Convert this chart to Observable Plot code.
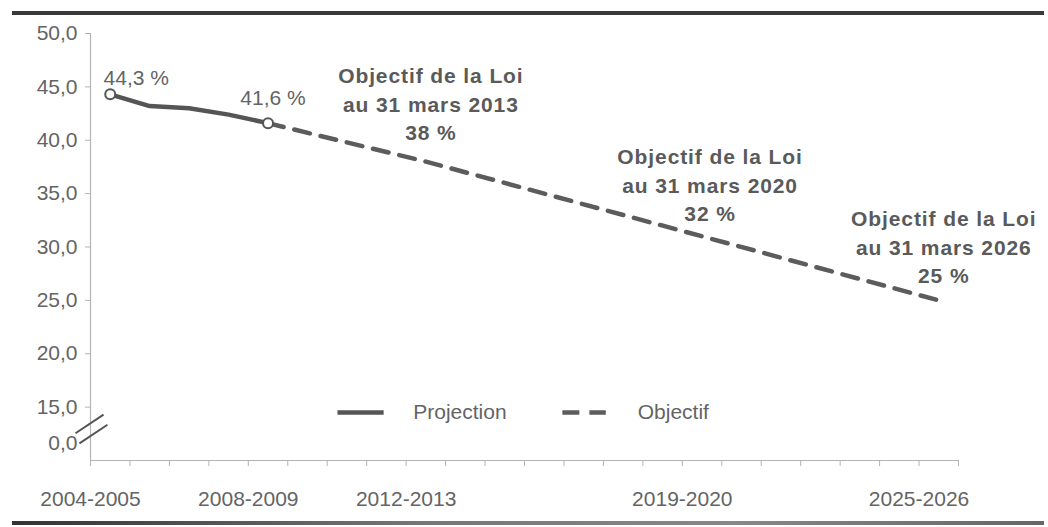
<!DOCTYPE html>
<html>
<head>
<meta charset="utf-8">
<script src="https://cdn.jsdelivr.net/npm/d3@7"></script>
<script src="https://cdn.jsdelivr.net/npm/@observablehq/plot@0.6"></script>
<style>
  html, body { margin: 0; padding: 0; background: #fff; }
  #wrap { position: relative; width: 1048px; height: 527px; overflow: hidden; }
  .rule { position: absolute; left: 12px; right: 4px; }
  #top { top: 11px; height: 4px; background: #3a3a3a; }
  #bottom { top: 521px; height: 4px; background: linear-gradient(90deg, #333, #777 40%, #888 70%, #666); }
  g[font-weight="bold"] text { letter-spacing: 0.9px; }
</style>
</head>
<body>
<div id="wrap"><div class="rule" id="top"></div><div class="rule" id="bottom"></div></div>
<script>
// Categories (school years)
const years = ["2004-2005","2005-2006","2006-2007","2007-2008","2008-2009","2009-2010","2010-2011",
  "2011-2012","2012-2013","2013-2014","2014-2015","2015-2016","2016-2017","2017-2018","2018-2019",
  "2019-2020","2020-2021","2021-2022","2022-2023","2023-2024","2024-2025","2025-2026"];
const labeledYears = ["2004-2005","2008-2009","2012-2013","2019-2020","2025-2026"];

// Projection series (solid)
const projYears = ["2004-2005","2005-2006","2006-2007","2007-2008","2008-2009"];
const projValues = [44.3, 43.2, 43.0, 42.4, 41.6];

// Objectif series (dashed)
const objYears = ["2008-2009","2012-2013","2025-2026"];
const objValues = [41.6, 38, 25];

// Labelled points
const markedYears = ["2004-2005","2008-2009"];
const markedValues = [44.3, 41.6];
const markedLabels = ["44,3 %","41,6 %"];

// Law objectives annotations
const goalYears = ["2012-2013","2019-2020","2025-2026"];
const goalValues = [38, 32, 25];
const goalTexts = ["Objectif de la Loi\nau 31 mars 2013\n38 %",
                   "Objectif de la Loi\nau 31 mars 2020\n32 %",
                   "Objectif de la Loi\nau 31 mars 2026\n25 %"];

const yTicks = [15, 20, 25, 30, 35, 40, 45, 50];

const idx = y => years.indexOf(y);
const mid = y => idx(y) + 0.5;

const proj = projYears.map((y, i) => ({x: mid(y), value: projValues[i]}));
const obj = objYears.map((y, i) => ({x: mid(y), value: objValues[i]}));

const textColor = "#646464";
const lineColor = "#555555";
const axisColor = "#b4b4b4";
const fontFamily = "'Liberation Sans', Arial, sans-serif";

// Point label placements (pixel offsets from the point)
const labelOffsets = [{dx: 26, dy: -16}, {dx: 5, dy: -25}];
const labelMarks = markedYears.map((y, i) => Plot.text([{x: mid(y), value: markedValues[i], t: markedLabels[i]}], {
  x: "x", y: "value", text: "t", dx: labelOffsets[i].dx, dy: labelOffsets[i].dy, fill: textColor, fontSize: 21
}));

// Annotation placements (pixel offsets from the goal point)
const goalOffsets = [{dx: 5, dy: -59}, {dx: 8, dy: -42}, {dx: 5, dy: -55}];
const goalMarks = goalYears.map((y, i) => Plot.text([{x: mid(y), value: goalValues[i], t: goalTexts[i]}], {
  x: "x", y: "value", text: "t", dx: goalOffsets[i].dx, dy: goalOffsets[i].dy,
  fontWeight: "bold", fontSize: 21, fill: "#5a5a5a", lineHeight: 1.36, textAnchor: "middle",
  lineAnchor: "middle"
}));

const chart = Plot.plot({
  width: 1048,
  height: 527,
  marginLeft: 90,
  marginRight: 90,
  marginTop: 33,
  marginBottom: 67,
  style: {fontFamily, fontSize: "21px", color: textColor, background: "transparent"},
  x: {type: "linear", domain: [0, years.length], axis: null},
  y: {type: "linear", domain: [10, 50], axis: null},
  marks: [
    // axes
    Plot.ruleX([0], {y1: 10, y2: 50, stroke: axisColor, strokeWidth: 1.2}),
    Plot.ruleY([10], {x1: 0, x2: years.length, stroke: axisColor, strokeWidth: 1.2}),
    Plot.axisY({ticks: yTicks, tickSize: 5, tickPadding: 8, stroke: axisColor, fill: textColor,
      tickFormat: d => d.toFixed(1).replace(".", ","), label: null, fontSize: 21}),
    Plot.axisX({ticks: d3.range(0, years.length + 1), tickSize: 6, tickPadding: 25, stroke: axisColor, fill: textColor,
      tickFormat: i => labeledYears.includes(years[i]) ? years[i] : "", label: null, fontSize: 21}),
    // axis break
    Plot.text([{v: 11.6}], {x: 0, y: "v", text: () => "0,0", dx: -13, textAnchor: "end", fill: textColor, fontSize: 21}),
    Plot.link([{a: -0.38, b: 0.33, c: 12.55, d: 14.3}, {a: -0.28, b: 0.43, c: 11.6, d: 13.35}],
      {x1: "a", x2: "b", y1: "c", y2: "d", stroke: lineColor, strokeWidth: 2}),
    // series
    Plot.line(obj, {x: "x", y: "value", stroke: "#5c5c5c", strokeWidth: 4.5, strokeDasharray: "16,11"}),
    Plot.line(proj, {x: "x", y: "value", stroke: lineColor, strokeWidth: 4.5, strokeLinejoin: "round"}),
    Plot.dot(markedYears.map((y, i) => ({x: mid(y), value: markedValues[i]})),
      {x: "x", y: "value", r: 5, stroke: lineColor, fill: "white", strokeWidth: 2}),
    ...labelMarks,
    ...goalMarks,
    // legend
    Plot.link([{a: 6.26, b: 7.43, v: 14.5}], {x1: "a", x2: "b", y1: "v", y2: "v", stroke: lineColor, strokeWidth: 4.5}),
    Plot.text([{a: 8.18, v: 14.5}], {x: "a", y: "v", text: () => "Projection", textAnchor: "start", fill: textColor, fontSize: 21}),
    Plot.link([{a: 11.96, b: 13.06, v: 14.5}], {x1: "a", x2: "b", y1: "v", y2: "v", stroke: "#5c5c5c", strokeWidth: 4.5, strokeDasharray: "17,10"}),
    Plot.text([{a: 13.87, v: 14.5}], {x: "a", y: "v", text: () => "Objectif", textAnchor: "start", fill: textColor, fontSize: 21})
  ]
});
chart.style.position = "absolute";
chart.style.left = "0px";
chart.style.top = "0px";
document.getElementById("wrap").appendChild(chart);
</script>
</body>
</html>
